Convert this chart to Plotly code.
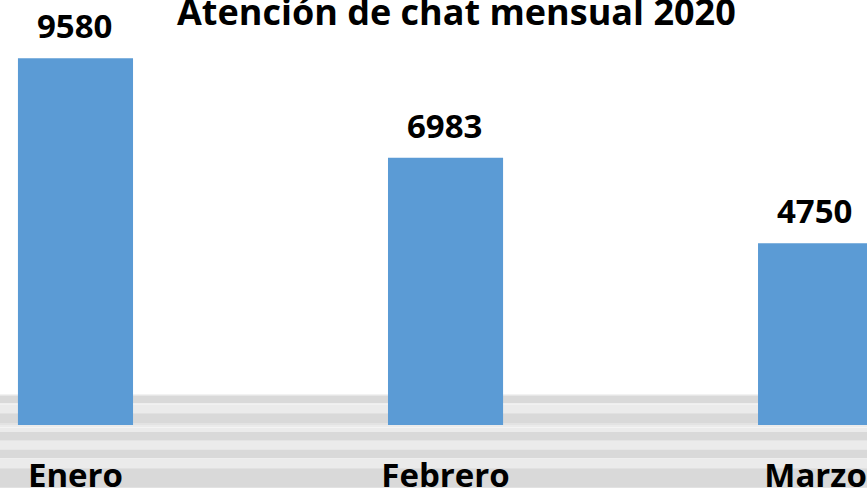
import plotly.graph_objects as go

months = ["Enero", "Febrero", "Marzo"]
chats = [9580, 6983, 4750]
title_text = "Atención de chat mensual 2020"

BAR_COLOR = "#5B9BD5"
FONT = "Open Sans"
W, H = 867, 497
PLOT_BOTTOM_PX = 433  # pixel row of the value axis zero line

def py(p):
    """pixel row -> paper y (plot area spans pixel 0..PLOT_BOTTOM_PX)"""
    return (PLOT_BOTTOM_PX - p) / PLOT_BOTTOM_PX

# decorative striped floor (pixel rows, colour)
floor = [
    (402, 403, "#e6e6e6"), (403, 411, "#d9d9d9"), (411, 412, "#f0f0f0"),
    (412, 421, "#ebebeb"), (421, 431, "#d9d9d9"), (431, 433, "#e3e3e3"),
    (433, 435, "#ebebeb"), (435, 436, "#f4f4f4"), (436, 440, "#ebebeb"),
    (440, 449, "#d9d9d9"), (449, 458, "#ebebeb"), (458, 467, "#d9d9d9"),
    (467, 477, "#ebebeb"), (477, 497, "#d9d9d9"),
]
shapes = [
    dict(type="rect", xref="paper", yref="paper", x0=0, x1=1,
         y0=py(b), y1=py(a), fillcolor=c, line=dict(width=0), layer="below")
    for a, b, c in floor
]

fig = go.Figure(go.Bar(
    x=months, y=chats, marker=dict(color=BAR_COLOR, line=dict(width=0)),
    width=0.311, hoverinfo="skip",
))

annotations = [
    dict(x=m, y=v, text=f"<b>{v}</b>", showarrow=False, yanchor="bottom",
         yshift=8, xshift=-1, font=dict(family=FONT, size=33, color="black"))
    for m, v in zip(months, chats)
]
annotations.append(dict(
    x=0.526, y=py(12), xref="paper", yref="paper", text=f"<b>{title_text}</b>",
    showarrow=False, yanchor="middle", xanchor="center",
    font=dict(family=FONT, size=36, color="black")))

fig.update_layout(
    width=W, height=H,
    margin=dict(l=0, r=0, t=0, b=H - PLOT_BOTTOM_PX, pad=0),
    paper_bgcolor="white", plot_bgcolor="rgba(0,0,0,0)",
    showlegend=False,
    shapes=shapes,
    annotations=annotations,
    xaxis=dict(range=[-0.204, 2.139], showgrid=False, zeroline=False,
               showline=False, ticks="", ticklabelstandoff=28,
               tickfont=dict(family=FONT, size=33, color="black", weight="bold")),
    yaxis=dict(range=[0, 11100], visible=False, showgrid=False, zeroline=False),
)

page_fix = (
    "var r=document.documentElement, b=document.body;"
    "[r,b].forEach(function(e){e.style.margin='0';e.style.padding='0';"
    "e.style.overflow='hidden';});"
)
fig.write_html("out.html", config={"displayModeBar": False}, post_script=page_fix)
